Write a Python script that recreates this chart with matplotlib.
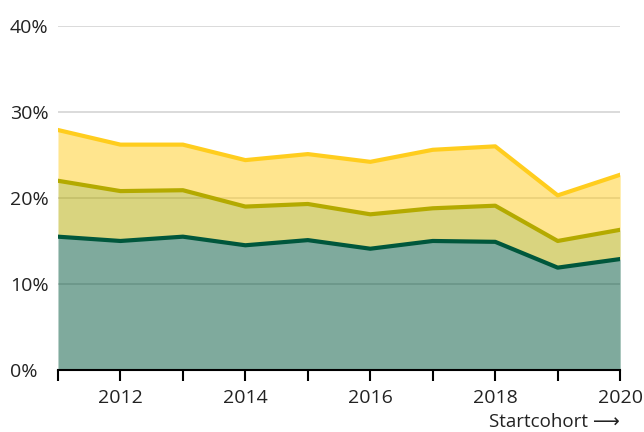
import matplotlib.pyplot as plt
import numpy as np

plt.rcParams['font.family'] = ['Open Sans', 'DejaVu Sans']

# startcohort jaren
jaren = [2011, 2012, 2013, 2014, 2015, 2016, 2017, 2018, 2019, 2020]
# cumulatieve percentages per laag
onder = [15.5, 15.0, 15.5, 14.5, 15.1, 14.1, 15.0, 14.9, 11.9, 12.9]
midden = [22.0, 20.8, 20.9, 19.0, 19.3, 18.1, 18.8, 19.1, 15.0, 16.3]
boven = [27.9, 26.2, 26.2, 24.4, 25.1, 24.2, 25.6, 26.0, 20.3, 22.7]

y_ticks = [0, 10, 20, 30, 40]
y_labels = ["0%", "10%", "20%", "30%", "40%"]

kleur_onder = "#00573c"
kleur_midden = "#b4aa00"
kleur_boven = "#ffcd1e"

fig = plt.figure(figsize=(6.44, 4.32), dpi=100)
ax = fig.add_axes([0.090, 0.1435, 0.873, 0.7965])

ax.fill_between(jaren, 0, onder, color=kleur_onder, alpha=0.5, lw=0, zorder=2)
ax.fill_between(jaren, onder, midden, color=kleur_midden, alpha=0.5, lw=0, zorder=2)
ax.fill_between(jaren, midden, boven, color=kleur_boven, alpha=0.5, lw=0, zorder=2)

ax.plot(jaren, boven, color=kleur_boven, lw=3, zorder=3)
ax.plot(jaren, midden, color=kleur_midden, lw=3, zorder=3)
ax.plot(jaren, onder, color=kleur_onder, lw=3, zorder=3)

ax.set_xlim(2011, 2020)
ax.set_ylim(0, 40)

ax.set_yticks(y_ticks)
ax.set_yticklabels(y_labels)
ax.yaxis.grid(True, color="#d4d4d4", lw=1.2, zorder=1)
ax.set_axisbelow(True)
ax.tick_params(axis="y", length=0, pad=34.5, labelsize=14, labelcolor="#222222")
for lab in ax.get_yticklabels():
    lab.set_horizontalalignment("left")

ax.set_xticks(jaren)
ax.set_xticklabels([str(j) if j % 2 == 0 else "" for j in jaren])
ax.tick_params(axis="x", length=8, width=1.5, direction="out", pad=6,
               labelsize=14, labelcolor="#222222")

for s in ["top", "right", "left"]:
    ax.spines[s].set_visible(False)
ax.spines["bottom"].set_linewidth(1.5)
ax.spines["bottom"].set_zorder(4)

fig.text(0.963, 0.024, "Startcohort \u27f6", ha="right", va="center",
         fontsize=13.5, color="#222222")

fig.savefig("out.png", dpi=100)
